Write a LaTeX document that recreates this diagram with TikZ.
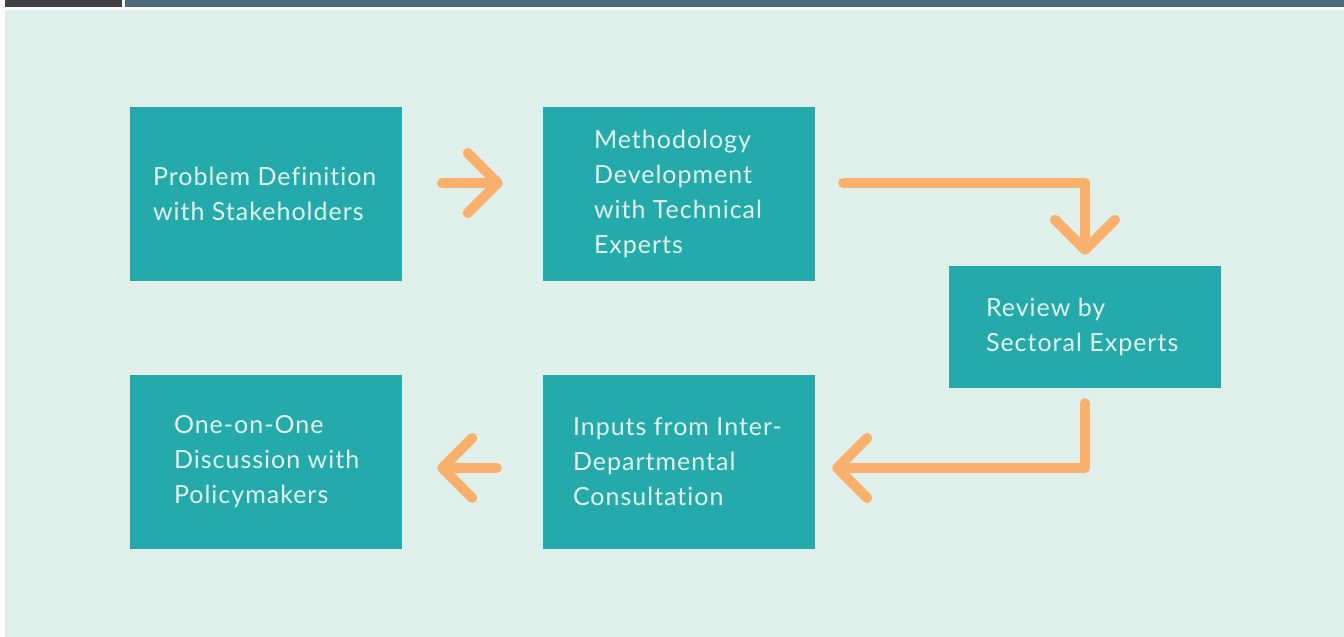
\documentclass[tikz,border=0pt]{standalone}
\usepackage{fontspec}
\setmainfont{Lato}[LetterSpace=4,Ligatures=NoCommon]
\usepackage{tikz}
\usetikzlibrary{calc,positioning,arrows.meta}
\definecolor{mint}{RGB}{223,240,234}
\definecolor{teal}{RGB}{36,170,170}
\definecolor{peach}{RGB}{249,176,108}
\definecolor{paletext}{RGB}{226,243,238}
\definecolor{barslate}{RGB}{77,107,125}
\definecolor{bardark}{RGB}{64,64,66}
\tikzset{>=stealth,
  stepbox/.style={fill=teal,draw=none,minimum width=272pt,minimum height=174pt,inner sep=0pt},
  steptext/.style={text=paletext,align=left,inner sep=0pt,font=\fontsize{25}{35}\selectfont},
  flow/.style={draw=peach,line width=10pt,line cap=round,line join=round,
    -{Straight Barb[length=30pt,width=60pt,round]}}}

\begin{document}
\begin{tikzpicture}[x=1pt,y=-1pt]
    \useasboundingbox (0,0) rectangle (1344,637);
    % page
    \fill[color=mint] (5,10) rectangle (1344,637);
    \fill[color=bardark] (5,0) rectangle (122,6.5);
    \fill[color=barslate] (125,0) rectangle (1344,6.5);
    % steps
    \node[stepbox] (define) at (266,194) {};
    \node[stepbox] (method) at (679,194) {};
    \node[stepbox,minimum height=122pt] (review) at (1085,327) {};
    \node[stepbox] (inputs) at (679,462) {};
    \node[stepbox] (discuss) at (266,462) {};
    \node[steptext,right=23pt of define.west] (definetxt) {Problem Definition\\with Stakeholders};
    \node[steptext,right=51pt of method.west] (methodtxt) {Methodology\\Development\\with Technical\\Experts};
    \node[steptext,right=37pt of review.west] (reviewtxt) {Review by\\Sectoral Experts};
    \node[steptext,right=30pt of inputs.west] (inputstxt) {Inputs from Inter-\\Departmental\\Consultation};
    \node[steptext,right=44pt of discuss.west] (discusstxt) {One-on-One\\Discussion with\\Policymakers};
    % arrows
    \draw[flow] ([xshift=40pt,yshift=11pt]define.east) -- ([xshift=-40pt,yshift=11pt]method.west);
    \draw[flow] ([xshift=28pt,yshift=11pt]method.east) -| ([yshift=11pt]review.north);
    \draw[flow] ([yshift=-15pt]review.south) |- ([xshift=17pt,yshift=-6pt]inputs.east);
    \draw[flow] ([xshift=-46pt,yshift=-6pt]inputs.west) -- ([xshift=35pt,yshift=-6pt]discuss.east);
\end{tikzpicture}
\end{document}
